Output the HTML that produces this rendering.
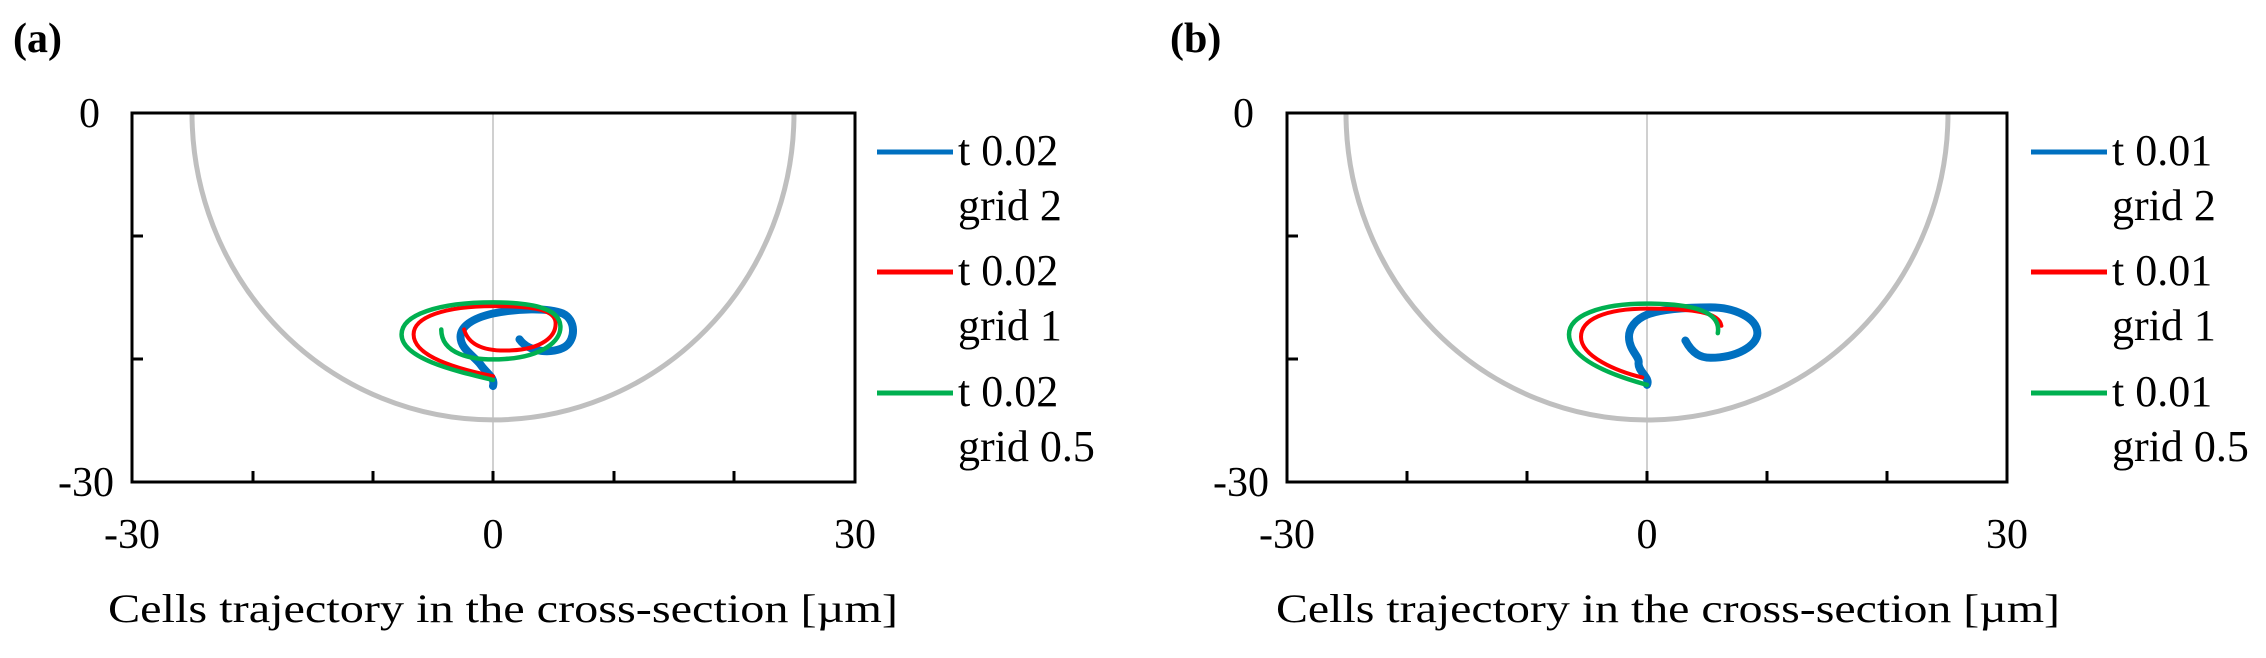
<!DOCTYPE html>
<html><head><meta charset="utf-8"><style>
html,body{margin:0;padding:0;background:#fff;}
svg{display:block;}
text{font-family:"Liberation Serif",serif;fill:#000;}
</style></head><body>
<svg width="2266" height="658" viewBox="0 0 2266 658" xmlns="http://www.w3.org/2000/svg">
<!-- Panel a -->
<text x="13" y="52" font-size="42" font-weight="bold">(a)</text>
<g>
  <line x1="493" y1="113" x2="493" y2="482" stroke="#d0d0d0" stroke-width="2"/>
  <path d="M192,113 A301,307 0 0 0 794,113" fill="none" stroke="#bfbfbf" stroke-width="5"/>
  <g transform="translate(493,113) scale(12.03,12.3)" fill="none" stroke-linecap="round" stroke-linejoin="round">
    <path vector-effect="non-scaling-stroke" stroke="#0070c0" stroke-width="8" d="M2.2,18.4 C3,19.5 5,19.6 6,19 C6.9,18.4 6.9,16.8 5.8,16.3 C4.5,15.8 2,15.9 0,16.3 C-1.8,16.7 -2.7,17.4 -2.7,18.2 C-2.7,19.2 -1.5,19.8 -1,20.5 C-0.5,21.2 0.2,21.5 0,22.2"/>
    <path vector-effect="non-scaling-stroke" stroke="#ff0000" stroke-width="4" d="M-2.4,17.6 C-2,19 -0.5,19.4 1.5,19.3 C4,19.2 5.3,18.2 5.2,17.0 C5.1,15.9 3,15.7 0,15.7 C-4,15.7 -6.6,16.6 -6.6,18 C-6.6,19.8 -3,20.8 0,21.4"/>
    <path vector-effect="non-scaling-stroke" stroke="#00b050" stroke-width="4.5" d="M-4.3,17.6 C-4.3,19.5 -2,20.2 1,20 C4,19.8 5.7,18.6 5.6,17.3 C5.5,15.8 3,15.4 0,15.4 C-4.5,15.4 -7.6,16.4 -7.6,18 C-7.6,20 -3,21 0,21.7"/>
  </g>
  <rect x="132" y="113" width="723" height="369" fill="none" stroke="#000" stroke-width="3"/>
  <g stroke="#000" stroke-width="3">
    <line x1="132" y1="236" x2="143" y2="236"/><line x1="132" y1="359" x2="143" y2="359"/>
    <line x1="253" y1="482" x2="253" y2="471"/><line x1="373" y1="482" x2="373" y2="471"/>
    <line x1="493" y1="482" x2="493" y2="471"/><line x1="614" y1="482" x2="614" y2="471"/>
    <line x1="734" y1="482" x2="734" y2="471"/>
  </g>
  <text x="100" y="127" font-size="42" text-anchor="end">0</text>
  <text x="114" y="496" font-size="42" text-anchor="end">-30</text>
  <text x="132" y="548" font-size="42" text-anchor="middle">-30</text>
  <text x="493" y="548" font-size="42" text-anchor="middle">0</text>
  <text x="855" y="548" font-size="42" text-anchor="middle">30</text>
  <text x="108" y="622" font-size="40" textLength="790" lengthAdjust="spacingAndGlyphs">Cells trajectory in the cross-section [µm]</text>
  <g stroke-width="5">
    <line x1="877" y1="152" x2="953" y2="152" stroke="#0070c0"/>
    <line x1="877" y1="272" x2="953" y2="272" stroke="#ff0000"/>
    <line x1="877" y1="393" x2="953" y2="393" stroke="#00b050"/>
  </g>
  <g font-size="44">
    <text x="958" y="165">t 0.02</text><text x="958" y="220">grid 2</text>
    <text x="958" y="285">t 0.02</text><text x="958" y="340">grid 1</text>
    <text x="958" y="406">t 0.02</text><text x="958" y="461">grid 0.5</text>
  </g>
</g>
<!-- Panel b -->
<text x="1170" y="52" font-size="42" font-weight="bold">(b)</text>
<g>
  <line x1="1647" y1="113" x2="1647" y2="482" stroke="#d0d0d0" stroke-width="2"/>
  <path d="M1346,113 A301,307 0 0 0 1948,113" fill="none" stroke="#bfbfbf" stroke-width="5"/>
  <g transform="translate(1647,113) scale(12,12.3)" fill="none" stroke-linecap="round" stroke-linejoin="round">
    <path vector-effect="non-scaling-stroke" stroke="#0070c0" stroke-width="8" d="M3.2,18.5 C3.8,19.6 4.5,19.9 5.3,19.9 C7.5,19.9 9.2,18.9 9.2,17.9 C9.2,16.6 7.2,15.8 5.3,15.8 C3,15.8 1,16 0,16.4 C-1,16.8 -1.5,17.5 -1.5,18.2 C-1.5,19.3 -0.6,19.8 -0.7,20.3 C-0.8,21 0.3,21.5 0,22.1"/>
    <path vector-effect="non-scaling-stroke" stroke="#ff0000" stroke-width="4" d="M6.2,17.3 C6,16.2 4,15.9 0,15.9 C-3.5,15.9 -5.5,16.8 -5.5,18.2 C-5.5,19.8 -2.5,21 -0.4,21.5"/>
    <path vector-effect="non-scaling-stroke" stroke="#00b050" stroke-width="4.5" d="M5.9,17.9 C6.2,16.2 4,15.5 0,15.5 C-4,15.5 -6.5,16.5 -6.5,18 C-6.5,20 -3,21.3 0,22.1"/>
  </g>
  <rect x="1287" y="113" width="720" height="369" fill="none" stroke="#000" stroke-width="3"/>
  <g stroke="#000" stroke-width="3">
    <line x1="1287" y1="236" x2="1298" y2="236"/><line x1="1287" y1="359" x2="1298" y2="359"/>
    <line x1="1407" y1="482" x2="1407" y2="471"/><line x1="1527" y1="482" x2="1527" y2="471"/>
    <line x1="1647" y1="482" x2="1647" y2="471"/><line x1="1767" y1="482" x2="1767" y2="471"/>
    <line x1="1887" y1="482" x2="1887" y2="471"/>
  </g>
  <text x="1254" y="127" font-size="42" text-anchor="end">0</text>
  <text x="1269" y="496" font-size="42" text-anchor="end">-30</text>
  <text x="1287" y="548" font-size="42" text-anchor="middle">-30</text>
  <text x="1647" y="548" font-size="42" text-anchor="middle">0</text>
  <text x="2007" y="548" font-size="42" text-anchor="middle">30</text>
  <text x="1276" y="622" font-size="40" textLength="784" lengthAdjust="spacingAndGlyphs">Cells trajectory in the cross-section [µm]</text>
  <g stroke-width="5">
    <line x1="2031" y1="152" x2="2107" y2="152" stroke="#0070c0"/>
    <line x1="2031" y1="272" x2="2107" y2="272" stroke="#ff0000"/>
    <line x1="2031" y1="393" x2="2107" y2="393" stroke="#00b050"/>
  </g>
  <g font-size="44">
    <text x="2112" y="165">t 0.01</text><text x="2112" y="220">grid 2</text>
    <text x="2112" y="285">t 0.01</text><text x="2112" y="340">grid 1</text>
    <text x="2112" y="406">t 0.01</text><text x="2112" y="461">grid 0.5</text>
  </g>
</g>
</svg>
</body></html>
